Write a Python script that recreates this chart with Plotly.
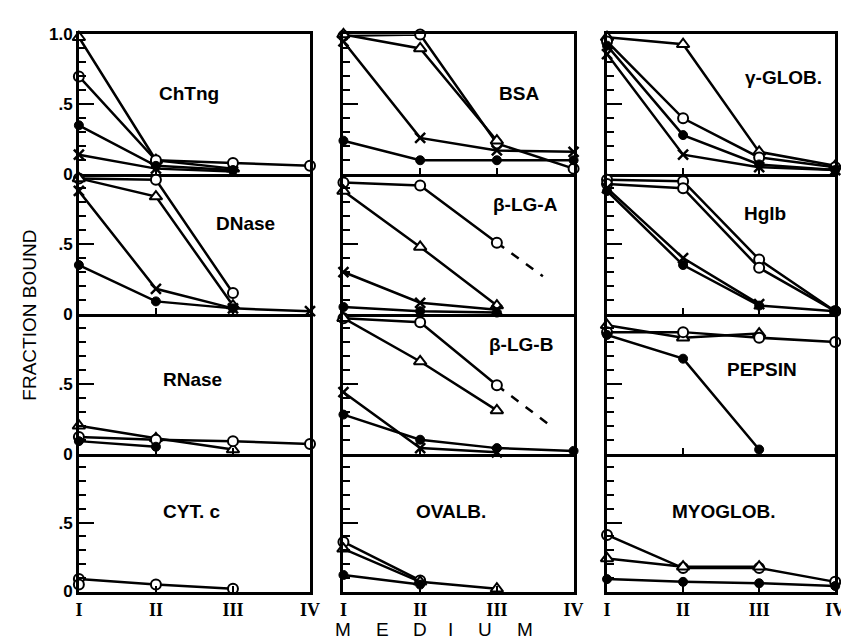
import plotly.graph_objects as go

# ---------------- data ----------------
MEDIUM = [1, 2, 3, 4]
MEDIUM_LABELS = ["I", "II", "III", "IV"]
Y_TICKS = [0, 0.5, 1.0]
Y_TICK_TEXT_TOP = ["0", ".5", "1.0"]
Y_TICK_TEXT = ["0", ".5", ""]

# ChTng
chtng_triangle = [0.98, 0.10, 0.04]
chtng_circle = [0.70, 0.10, 0.08, 0.06]
chtng_filled = [0.35, 0.06, 0.03]
chtng_cross = [0.14, 0.04, 0.02]
# BSA
bsa_circle = [0.99, 1.00, 0.22, 0.04]
bsa_triangle = [1.00, 0.90, 0.24]
bsa_cross = [0.95, 0.26, 0.17, 0.16]
bsa_filled = [0.24, 0.10, 0.10, 0.10]
# gamma-GLOB
gglob_triangle = [0.98, 0.93, 0.16, 0.06]
gglob_circle = [0.95, 0.40, 0.12, 0.05]
gglob_filled = [0.92, 0.28, 0.07, 0.03]
gglob_cross = [0.86, 0.14, 0.05, 0.03]
# DNase
dnase_circle = [0.97, 0.96, 0.15]
dnase_triangle = [0.97, 0.84, 0.06]
dnase_cross = [0.88, 0.18, 0.04, 0.02]
dnase_filled = [0.35, 0.09, 0.04]
# beta-LG-A
blga_circle = [0.94, 0.92, 0.51]
blga_circle_dash_x = [3.0, 3.6]
blga_circle_dash_y = [0.51, 0.27]
blga_triangle = [0.88, 0.48, 0.06]
blga_cross = [0.30, 0.08, 0.03]
blga_filled = [0.05, 0.02, 0.01]
# Hglb
hglb_circle = [0.96, 0.95, 0.39, 0.02]
hglb_circle2 = [0.93, 0.90, 0.33, 0.02]
hglb_cross = [0.90, 0.40, 0.07]
hglb_filled = [0.88, 0.35, 0.06, 0.02]
# RNase
rnase_triangle = [0.20, 0.11, 0.03]
rnase_circle = [0.12, 0.10, 0.09, 0.07]
rnase_filled = [0.09, 0.05]
# beta-LG-B
blgb_circle = [0.97, 0.94, 0.49]
blgb_circle_dash_x = [3.0, 3.7]
blgb_circle_dash_y = [0.49, 0.20]
blgb_triangle = [0.97, 0.66, 0.31]
blgb_cross = [0.44, 0.04, 0.01]
blgb_filled = [0.28, 0.10, 0.04, 0.02]
# PEPSIN
pepsin_triangle = [0.92, 0.83, 0.86]
pepsin_circle = [0.87, 0.87, 0.83, 0.80]
pepsin_filled = [0.85, 0.68, 0.03]
# CYT. c
cytc_circle = [0.09, 0.05, 0.02]
cytc_circle2 = [0.05]
# OVALB.
ovalb_circle = [0.36, 0.08]
ovalb_triangle = [0.31, 0.07, 0.02]
ovalb_filled = [0.12, 0.05]
# MYOGLOB.
myo_circle = [0.41, 0.17, 0.17, 0.07]
myo_triangle = [0.24, 0.18, 0.18]
myo_filled = [0.09, 0.07, 0.06, 0.04]

PANELS = [
    (1, 1, "ChTng", 2.43, 0.58, [("tri", chtng_triangle), ("circ", chtng_circle), ("fill", chtng_filled), ("x", chtng_cross)], None),
    (1, 2, "BSA", 3.29, 0.58, [("circ", bsa_circle), ("tri", bsa_triangle), ("x", bsa_cross), ("fill", bsa_filled)], None),
    (1, 3, "\u03b3-GLOB.", 3.32, 0.69, [("tri", gglob_triangle), ("circ", gglob_circle), ("fill", gglob_filled), ("x", gglob_cross)], None),
    (2, 1, "DNase", 3.16, 0.65, [("circ", dnase_circle), ("tri", dnase_triangle), ("x", dnase_cross), ("fill", dnase_filled)], None),
    (2, 2, "\u03b2-LG-A", 3.37, 0.78, [("circ", blga_circle), ("tri", blga_triangle), ("x", blga_cross), ("fill", blga_filled)], (blga_circle_dash_x, blga_circle_dash_y)),
    (2, 3, "Hglb", 3.08, 0.72, [("circ", hglb_circle), ("circ", hglb_circle2), ("x", hglb_cross), ("fill", hglb_filled)], None),
    (3, 1, "RNase", 2.48, 0.53, [("tri", rnase_triangle), ("circ", rnase_circle), ("fill", rnase_filled)], None),
    (3, 2, "\u03b2-LG-B", 3.32, 0.78, [("circ", blgb_circle), ("tri", blgb_triangle), ("x", blgb_cross), ("fill", blgb_filled)], (blgb_circle_dash_x, blgb_circle_dash_y)),
    (3, 3, "PEPSIN", 3.04, 0.60, [("tri", pepsin_triangle), ("circ", pepsin_circle), ("fill", pepsin_filled)], None),
    (4, 1, "CYT. c", 2.46, 0.58, [("circ", cytc_circle), ("circ", cytc_circle2)], None),
    (4, 2, "OVALB.", 2.40, 0.58, [("circ", ovalb_circle), ("tri", ovalb_triangle), ("fill", ovalb_filled)], None),
    (4, 3, "MYOGLOB.", 2.53, 0.58, [("circ", myo_circle), ("tri", myo_triangle), ("fill", myo_filled)], None),
]

# ---------------- layout geometry ----------------
W, H = 849, 643
COL_PX = [(68, 303), (337, 571), (605, 837)]
ROW_PX = [(18, 162), (162, 306), (306, 450), (450, 592)]

MARKERS = {
    "circ": dict(symbol="circle", size=10, color="white", line=dict(color="black", width=2)),
    "tri": dict(symbol="triangle-up", size=11, color="white", line=dict(color="black", width=2)),
    "x": dict(symbol="x-thin", size=10, color="black", line=dict(color="black", width=2.5)),
    "fill": dict(symbol="circle", size=9, color="black", line=dict(color="black", width=1)),
}

fig = go.Figure()
layout = {}
annotations = []
LABEL_FONT = dict(family="Liberation Sans, Arial, sans-serif", size=19, color="black")

for i, (row, col, name, lx, ly, series, dash) in enumerate(PANELS):
    n = i + 1
    xa = "x" if n == 1 else f"x{n}"
    ya = "y" if n == 1 else f"y{n}"
    x0, x1 = COL_PX[col - 1]
    yt, yb = ROW_PX[row - 1]
    bottom = row == 4
    left = col == 1
    layout["xaxis" if n == 1 else f"xaxis{n}"] = dict(
        domain=[x0 / W, x1 / W], range=[1, 4], anchor=ya,
        showline=True, mirror=(row == 1), linecolor="black", linewidth=2.5,
        showgrid=False, zeroline=False,
        tickmode="array", tickvals=MEDIUM, ticktext=MEDIUM_LABELS,
        ticks="inside", ticklen=6, tickwidth=2, tickcolor="black",
        showticklabels=bottom,
        tickfont=dict(family="Liberation Serif, Times New Roman, serif", size=18, color="black", weight="bold"),
    )
    layout["yaxis" if n == 1 else f"yaxis{n}"] = dict(
        domain=[1 - yb / H, 1 - yt / H], range=[0, 1], anchor=xa,
        showline=True, mirror=True, linecolor="black", linewidth=2.5,
        showgrid=False, zeroline=False,
        tickmode="array", tickvals=Y_TICKS,
        ticktext=Y_TICK_TEXT_TOP if row == 1 else Y_TICK_TEXT,
        ticks="inside", ticklen=15, tickwidth=2, tickcolor="black",
        showticklabels=left,
        tickfont=dict(family="Liberation Sans, Arial, sans-serif", size=17, color="black", weight="bold"),
        minor=dict(tickmode="array", tickvals=[0.1, 0.2, 0.3, 0.4, 0.6, 0.7, 0.8, 0.9],
                   ticks="inside", ticklen=7, tickwidth=2, tickcolor="black"),
    )
    if dash is not None:
        fig.add_trace(go.Scatter(x=dash[0], y=dash[1], mode="lines", xaxis=xa, yaxis=ya,
                                 line=dict(color="black", width=2.5, dash="dash"),
                                 showlegend=False, hoverinfo="skip"))
    for kind, vals in series:
        fig.add_trace(go.Scatter(
            x=MEDIUM[:len(vals)], y=vals, mode="lines+markers", xaxis=xa, yaxis=ya,
            line=dict(color="black", width=2.5), marker=MARKERS[kind],
            cliponaxis=False, showlegend=False))
    annotations.append(dict(x=lx, y=ly, xref=xa, yref=ya, text=name, showarrow=False,
                            font=dict(LABEL_FONT, weight="bold"), xanchor="center", yanchor="middle"))

annotations.append(dict(x=18 / W, y=1 - 307 / H, xref="paper", yref="paper", text="FRACTION BOUND",
                        textangle=-90, showarrow=False,
                        font=dict(family="Liberation Sans, Arial, sans-serif", size=19, color="black"),
                        xanchor="center", yanchor="middle"))
for letter, px in zip("MEDIUM", [337, 377, 415, 446, 481, 522]):
    annotations.append(dict(x=px / W, y=0, xref="paper", yref="paper", text=letter,
                            showarrow=False,
                            font=dict(family="Liberation Sans, Arial, sans-serif", size=19, color="black"),
                            xanchor="center", yanchor="bottom", yshift=-1))

fig.update_layout(
    width=W, height=H, autosize=False,
    margin=dict(l=0, r=0, t=0, b=0),
    paper_bgcolor="white", plot_bgcolor="white",
    showlegend=False, annotations=annotations, **layout,
)

fig.write_html("out.html")
